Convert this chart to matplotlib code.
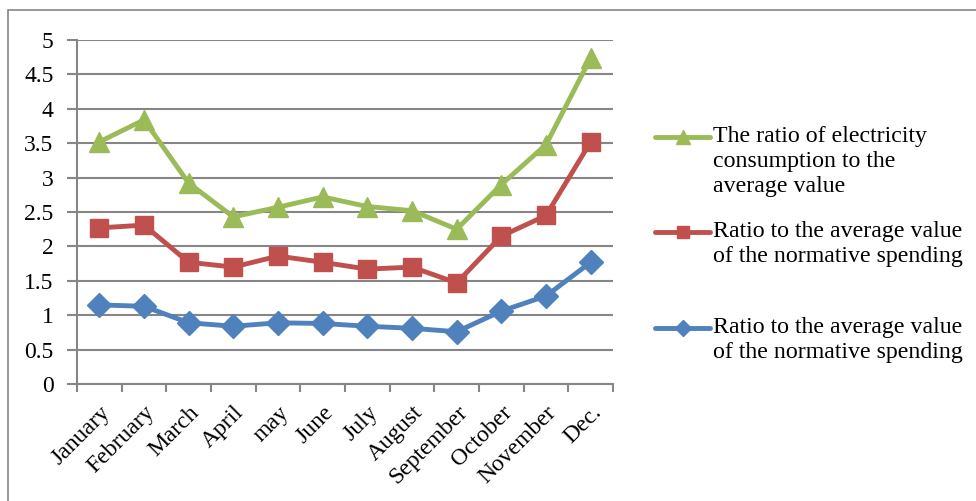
import numpy as np
import matplotlib.pyplot as plt
from matplotlib.lines import Line2D
from matplotlib.patches import Rectangle

# Data
months = ["January", "February", "March", "April", "may", "June",
          "July", "August", "September", "October", "November", "Dec."]
electricity = [3.52, 3.84, 2.92, 2.43, 2.57, 2.72, 2.58, 2.52, 2.25, 2.90, 3.48, 4.74]
normative_red = [2.27, 2.31, 1.77, 1.70, 1.86, 1.77, 1.67, 1.70, 1.47, 2.15, 2.45, 3.52]
normative_blue = [1.15, 1.13, 0.89, 0.84, 0.89, 0.88, 0.84, 0.81, 0.76, 1.06, 1.28, 1.77]
yticks = [0, 0.5, 1, 1.5, 2, 2.5, 3, 3.5, 4, 4.5, 5]
labels = ["The ratio of electricity\nconsumption to the\naverage value",
          "Ratio to the average value\nof the normative spending",
          "Ratio to the average value\nof the normative spending"]

GREEN = '#9BBB59'
RED = '#C0504D'
BLUE = '#4F81BD'
GRID = '#868686'

plt.rcParams['font.family'] = ['Liberation Serif', 'DejaVu Serif']

fig = plt.figure(figsize=(9.76, 5.01), dpi=100)
ax = fig.add_axes([0.0789, 0.2335, 0.5492, 0.6865])

x = np.arange(len(months))
ax.plot(x, normative_blue, color=BLUE, lw=3.5, marker='D', ms=12, zorder=3)
ax.plot(x, normative_red, color=RED, lw=3.5, marker='s', ms=13, zorder=3)
ax.plot(x, electricity, color=GREEN, lw=3.5, marker='^', ms=15, zorder=3)

ax.set_xlim(-0.5, len(months) - 0.5)
ax.set_ylim(0, 5)
ax.set_yticks(yticks)
ax.set_yticklabels([f"{v:g}" for v in yticks], fontsize=17)
ax.yaxis.grid(True, color=GRID, lw=1.5)
ax.set_axisbelow(True)

ax.set_xticks(x)
ax.set_xticklabels(months, rotation=45, ha='right', rotation_mode='anchor', fontsize=17)
ax.set_xticks(np.arange(len(months) + 1) - 0.5, minor=True)
ax.tick_params(axis='x', which='major', length=0, pad=13)
ax.tick_params(axis='x', which='minor', length=6, width=1.5, color=GRID)
ax.tick_params(axis='y', length=7, width=1.5, color=GRID, pad=10)

for side in ['top', 'right']:
    ax.spines[side].set_visible(False)
for side in ['left', 'bottom']:
    ax.spines[side].set_color(GRID)
    ax.spines[side].set_linewidth(1.5)

# Outer chart border
fig.add_artist(Rectangle((8 / 976, -0.1), 1.2, 1 - 10 / 501 + 0.1,
                         transform=fig.transFigure, fill=False,
                         edgecolor=GRID, lw=1.2))

# Manual legend
entries = [(GREEN, '^', 10, 137), (RED, 's', 9, 232), (BLUE, 'D', 8, 328)]
for (color, marker, ms, ypix), label in zip(entries, labels):
    yf = 1 - ypix / 501
    fig.add_artist(Line2D([655 / 976, 683 / 976, 710 / 976], [yf, yf, yf],
                          transform=fig.transFigure, color=color, lw=3.5,
                          marker=marker, ms=ms, markevery=[1],
                          solid_capstyle='round'))
    fig.text(713 / 976, yf + 11 / 501, label, fontsize=17.2, va='top',
             ha='left', linespacing=1.25)

fig.savefig('out.png', dpi=100)
